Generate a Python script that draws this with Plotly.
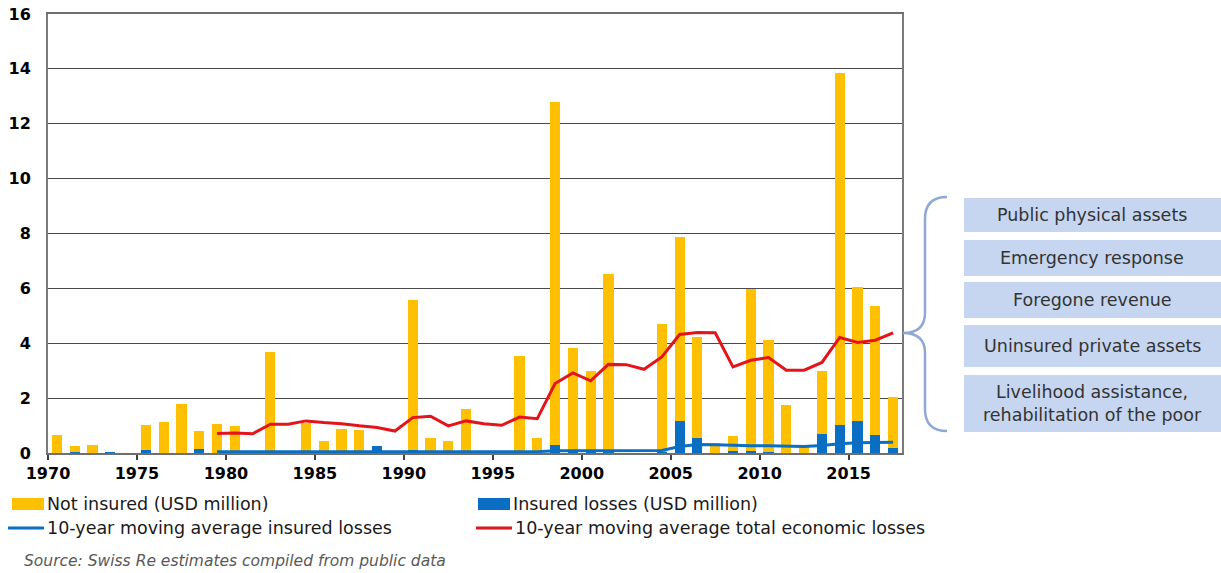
import plotly.graph_objects as go

# ---- data -------------------------------------------------------------
years = list(range(1970, 2018))

not_insured = [0.65, 0.19, 0.30, 0.00, 0.00, 0.91, 1.13, 1.80, 0.63, 1.07,
               0.97, 0.00, 3.68, 0.00, 1.09, 0.44, 0.86, 0.83, 0.00, 0.00,
               5.47, 0.50, 0.44, 1.59, 0.00, 0.00, 3.51, 0.55, 12.50, 3.77,
               2.96, 6.47, 0.00, 0.00, 4.66, 6.69, 3.68, 0.38, 0.56, 5.91,
               4.06, 1.76, 0.30, 2.31, 12.85, 4.88, 4.69, 1.84]

insured = [0.00, 0.05, 0.00, 0.03, 0.00, 0.12, 0.00, 0.00, 0.16, 0.00,
           0.00, 0.00, 0.00, 0.00, 0.00, 0.00, 0.00, 0.00, 0.24, 0.00,
           0.10, 0.05, 0.00, 0.00, 0.00, 0.00, 0.03, 0.00, 0.30, 0.05,
           0.03, 0.05, 0.00, 0.00, 0.03, 1.17, 0.55, 0.00, 0.06, 0.07,
           0.05, 0.00, 0.00, 0.68, 1.01, 1.17, 0.67, 0.20]

ma_years = list(range(1979, 2018))

ma_total = [0.71, 0.73, 0.70, 1.05, 1.05, 1.17, 1.11, 1.07, 0.99, 0.93,
            0.80, 1.29, 1.34, 0.99, 1.17, 1.07, 1.01, 1.31, 1.25, 2.53,
            2.92, 2.63, 3.23, 3.22, 3.05, 3.50, 4.32, 4.39, 4.38, 3.14,
            3.38, 3.48, 3.02, 3.02, 3.30, 4.21, 4.03, 4.11, 4.38]

ma_insured = [0.05, 0.05, 0.05, 0.05, 0.05, 0.05, 0.05, 0.05, 0.05, 0.05,
              0.05, 0.05, 0.05, 0.05, 0.05, 0.05, 0.05, 0.05, 0.05, 0.08,
              0.08, 0.08, 0.08, 0.08, 0.08, 0.09, 0.24, 0.31, 0.30, 0.27,
              0.26, 0.26, 0.24, 0.24, 0.27, 0.34, 0.37, 0.38, 0.39]

tick_years = [1970, 1975, 1980, 1985, 1990, 1995, 2000, 2005, 2010, 2015]
y_ticks = [0, 2, 4, 6, 8, 10, 12, 14, 16]

cost_items = ["Public physical assets", "Emergency response", "Foregone revenue",
              "Uninsured private assets",
              "Livelihood assistance,<br>rehabilitation of the poor"]

legend_labels = ["Not insured (USD million)", "Insured losses (USD million)",
                 "10-year moving average insured losses",
                 "10-year moving average total economic losses"]

source_text = "Source: Swiss Re estimates compiled from public data"

# ---- styling ----------------------------------------------------------
YELLOW = "#FFC000"
BLUE = "#0A6FC2"
RED = "#E3151A"
BOX = "#C6D6F0"
BRACE = "#8FA8D6"
FONT = "DejaVu Sans"

W, H = 1221, 573
L, R, T, B = 48, 902, 14, 453  # plot area in pixels


def px(x):
    return (x - L) / (R - L)


def py(y):
    return (B - y) / (B - T)


fig = go.Figure()

fig.add_trace(go.Bar(x=years, y=insured, marker_color=BLUE, width=0.57,
                     marker_line_width=0, name=legend_labels[1], showlegend=False))
fig.add_trace(go.Bar(x=years, y=not_insured, marker_color=YELLOW, width=0.57,
                     marker_line_width=0, name=legend_labels[0], showlegend=False))
fig.add_trace(go.Scatter(x=ma_years, y=ma_insured, mode="lines",
                         line=dict(color=BLUE, width=3), name=legend_labels[2],
                         showlegend=False))
fig.add_trace(go.Scatter(x=ma_years, y=ma_total, mode="lines",
                         line=dict(color=RED, width=3), name=legend_labels[3],
                         showlegend=False))

shapes = []
annotations = []

# legend swatches and labels
legend_rows = [
    (12, 504, "rect", YELLOW, legend_labels[0]),
    (478, 504, "rect", BLUE, legend_labels[1]),
    (8, 528, "line", BLUE, legend_labels[2]),
    (476, 528, "line", RED, legend_labels[3]),
]
for x0, yc, kind, col, text in legend_rows:
    if kind == "rect":
        shapes.append(dict(type="rect", xref="paper", yref="paper",
                           x0=px(x0), x1=px(x0 + 32), y0=py(yc + 6), y1=py(yc - 6),
                           fillcolor=col, line_width=0))
        tx = x0 + 33
    else:
        shapes.append(dict(type="line", xref="paper", yref="paper",
                           x0=px(x0), x1=px(x0 + 36), y0=py(yc), y1=py(yc),
                           line=dict(color=col, width=3)))
        tx = x0 + 37
    annotations.append(dict(text=text, xref="paper", yref="paper",
                            x=px(tx), y=py(yc), xanchor="left", yanchor="middle",
                            showarrow=False,
                            font=dict(family=FONT, size=17.5, color="#1a1a1a")))

annotations.append(dict(text=source_text, xref="paper", yref="paper",
                        x=px(22), y=py(561), xanchor="left", yanchor="middle",
                        showarrow=False,
                        font=dict(family=FONT, size=15.5, color="#595959", style="italic")))

# cost category boxes on the right
box_rows = [(198, 232), (240, 276), (282, 318), (325, 367), (375, 432)]
for (y0, y1), text in zip(box_rows, cost_items):
    shapes.append(dict(type="rect", xref="paper", yref="paper",
                       x0=px(964), x1=px(1225), y0=py(y1), y1=py(y0),
                       fillcolor=BOX, line_width=0, layer="below"))
    annotations.append(dict(text=text, xref="paper", yref="paper",
                            x=px(1092), y=py((y0 + y1) / 2),
                            xanchor="center", yanchor="middle", showarrow=False,
                            font=dict(family=FONT, size=17.5, color="#333333")))

# curly brace
brace_pts = [
    ("M", [(947, 197)]),
    ("Q", [(925, 197), (925, 219)]),
    ("L", [(925, 313)]),
    ("Q", [(925, 333), (903, 333)]),
    ("Q", [(925, 333), (925, 353)]),
    ("L", [(925, 409)]),
    ("Q", [(925, 431), (947, 431)]),
]
path = ""
for cmd, pts in brace_pts:
    path += cmd + " " + " ".join(f"{px(x):.5f},{py(y):.5f}" for x, y in pts) + " "
shapes.append(dict(type="path", xref="paper", yref="paper", path=path.strip(),
                   line=dict(color=BRACE, width=2.5)))

fig.update_layout(
    width=W, height=H,
    margin=dict(l=L, r=W - R, t=T, b=H - B, pad=0, autoexpand=False),
    paper_bgcolor="white", plot_bgcolor="white",
    barmode="stack", bargap=0.4,
    showlegend=False,
    shapes=shapes, annotations=annotations,
    font=dict(family=FONT, color="black"),
)

fig.update_xaxes(
    automargin=False,
    range=[1969.5, 2017.5],
    tickmode="array",
    tickvals=[y - 0.5 for y in tick_years],
    ticktext=[str(y) for y in tick_years],
    ticks="outside", ticklen=5, tickwidth=1.5, tickcolor="#404040",
    tickfont=dict(family=FONT, size=16, color="black", weight="bold"),
    showgrid=False, zeroline=False,
    showline=True, linecolor="#6f6f6f", linewidth=2, mirror=True,
)

fig.update_yaxes(
    automargin=False,
    range=[0, 16],
    tickmode="array", tickvals=y_ticks, ticktext=[str(v) for v in y_ticks],
    ticks="", ticklabelstandoff=12,
    tickfont=dict(family=FONT, size=16, color="black", weight="bold"),
    showgrid=True, gridcolor="#4a4a4a", gridwidth=1.3,
    zeroline=False,
    showline=True, linecolor="#7a7a7a", linewidth=2, mirror=True,
)

fig.write_html("out.html")
